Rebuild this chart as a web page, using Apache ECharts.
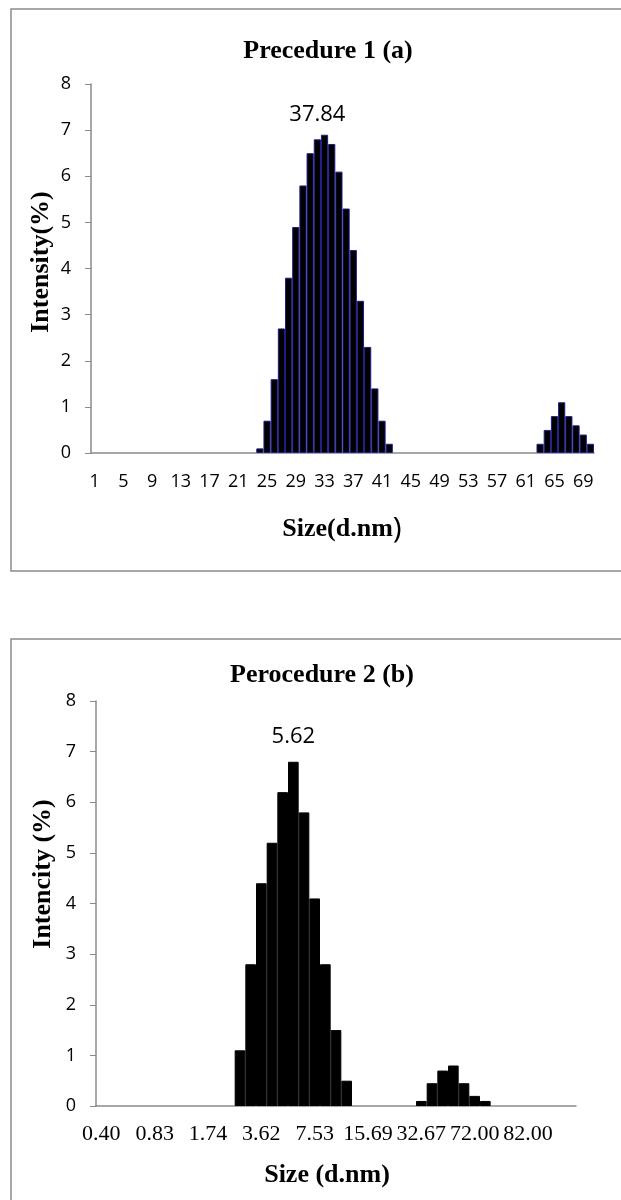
<!DOCTYPE html>
<html>
<head>
<meta charset="utf-8">
<script src="https://cdn.jsdelivr.net/npm/echarts@6/dist/echarts.min.js"></script>
<style>
  html, body { margin: 0; padding: 0; background: #fff; }
  #chart { width: 621px; height: 1200px; }
</style>
</head>
<body>
<div id="chart"></div>
<script>
// ---- chart (a): size bins 1..70, intensity (%)
const sizesA = [
  1, 2, 3, 4, 5, 6, 7, 8, 9, 10, 11, 12, 13, 14, 15, 16, 17, 18, 19, 20,
  21, 22, 23, 24, 25, 26, 27, 28, 29, 30, 31, 32, 33, 34, 35, 36, 37, 38, 39, 40,
  41, 42, 43, 44, 45, 46, 47, 48, 49, 50, 51, 52, 53, 54, 55, 56, 57, 58, 59, 60,
  61, 62, 63, 64, 65, 66, 67, 68, 69, 70
]
const intensityA = [
  0, 0, 0, 0, 0, 0, 0, 0, 0, 0, 0, 0, 0, 0, 0, 0, 0, 0, 0, 0,
  0, 0, 0, 0.1, 0.7, 1.6, 2.7, 3.8, 4.9, 5.8, 6.5, 6.8, 6.9, 6.7, 6.1, 5.3, 4.4, 3.3, 2.3, 1.4,
  0.7, 0.2, 0, 0, 0, 0, 0, 0, 0, 0, 0, 0, 0, 0, 0, 0, 0, 0, 0, 0,
  0, 0, 0.2, 0.5, 0.8, 1.1, 0.8, 0.6, 0.4, 0.2
]
const peakIndexA = 31
const peakTextA = '37.84'

// ---- chart (b): size classes (d.nm), intensity (%)
const sizesB = [
  '0.40', '0.46', '0.54', '0.62', '0.72', '0.83', '0.96', '1.12', '1.29', '1.50',
  '1.74', '2.01', '2.33', '2.70', '3.12', '3.62', '4.19', '4.85', '5.62', '6.50',
  '7.53', '8.72', '10.10', '11.70', '13.54', '15.69', '18.17', '21.04', '24.36', '28.21',
  '32.67', '37.84', '43.82', '50.75', '58.77', '72.00', '78.82', '91.28', '105.70', '122.40',
  '82.00', '164.20', '190.10', '220.20', '255.00'
]
const intensityB = [
  0, 0, 0, 0, 0, 0, 0, 0, 0, 0,
  0, 0, 0, 1.1, 2.8, 4.4, 5.2, 6.2, 6.8, 5.8,
  4.1, 2.8, 1.5, 0.5, 0, 0, 0, 0, 0, 0,
  0.1, 0.45, 0.7, 0.8, 0.45, 0.2, 0.1, 0, 0, 0,
  0, 0, 0, 0, 0
]
const peakIndexB = 18
const peakTextB = '5.62'

const yMin = 0
const yMax = 8
const yStep = 1

const serif = '"Liberation Serif", "Times New Roman", serif'
const sans = '"Open Sans", sans-serif'
const axisGray = '#8a8a8a'

function barData(values, peakIndex, peakText) {
  return values.map((v, i) => {
    const val = v === 0 ? null : v
    if (i !== peakIndex) return val
    return {
      value: val,
      label: {
        show: true,
        position: 'top',
        distance: 14,
        formatter: peakText,
        fontFamily: sans,
        fontSize: 22,
        color: '#000'
      }
    }
  })
}

function valueAxis(gridIndex) {
  return {
    type: 'value',
    gridIndex,
    min: yMin,
    max: yMax,
    interval: yStep,
    axisLine: { show: true, lineStyle: { color: axisGray, width: 1.5 } },
    axisTick: { show: true, length: 6, lineStyle: { color: axisGray } },
    splitLine: { show: false },
    axisLabel: { color: '#000', fontFamily: sans, fontSize: 18, margin: 20 }
  }
}

const chart = echarts.init(document.getElementById('chart'))

const option = {
  animation: false,
  backgroundColor: '#fff',
  grid: [
    { left: 91, right: 27, top: 84, height: 369 },
    { left: 96, right: 45, top: 701, height: 405 }
  ],
  xAxis: [
    {
      type: 'category',
      gridIndex: 0,
      data: sizesA,
      axisLine: { lineStyle: { color: axisGray, width: 1.5 } },
      axisTick: { show: false },
      axisLabel: { interval: 3, color: '#000', fontFamily: sans, fontSize: 18, margin: 20 }
    },
    {
      type: 'category',
      gridIndex: 1,
      data: sizesB,
      axisLine: { lineStyle: { color: axisGray, width: 1.5 } },
      axisTick: { show: false },
      axisLabel: { interval: 4, color: '#000', fontFamily: serif, fontSize: 22, margin: 17 }
    }
  ],
  yAxis: [valueAxis(0), valueAxis(1)],
  series: [
    {
      type: 'bar',
      xAxisIndex: 0,
      yAxisIndex: 0,
      barCategoryGap: '0%',
      itemStyle: { color: '#000', borderColor: '#1c1c8a', borderWidth: 1 },
      data: barData(intensityA, peakIndexA, peakTextA)
    },
    {
      type: 'bar',
      xAxisIndex: 1,
      yAxisIndex: 1,
      barCategoryGap: '0%',
      itemStyle: { color: '#000', borderColor: '#000', borderWidth: 1 },
      data: barData(intensityB, peakIndexB, peakTextB)
    }
  ],
  graphic: [
    // frames
    { type: 'rect', z: -1, shape: { x: 11, y: 9, width: 720, height: 562 },
      style: { fill: 'none', stroke: '#8c8c8c', lineWidth: 1.5 } },
    { type: 'rect', z: -1, shape: { x: 11, y: 639, width: 720, height: 700 },
      style: { fill: 'none', stroke: '#8c8c8c', lineWidth: 1.5 } },
    // titles
    { type: 'text', x: 328, y: 51,
      style: { text: 'Precedure 1 (a)', font: 'bold 26px ' + serif, fill: '#000',
        textAlign: 'center', textVerticalAlign: 'middle' } },
    { type: 'text', x: 322, y: 675,
      style: { text: 'Perocedure 2 (b)', font: 'bold 26px ' + serif, fill: '#000',
        textAlign: 'center', textVerticalAlign: 'middle' } },
    // axis titles
    { type: 'text', x: 342, y: 529,
      style: {
        text: '{a|Size(d.nm}{b|)}',
        textAlign: 'center', textVerticalAlign: 'middle',
        rich: {
          a: { font: 'bold 26px ' + serif, fill: '#000' },
          b: { font: '30px ' + sans, fill: '#000' }
        }
      } },
    { type: 'text', x: 327, y: 1175,
      style: { text: 'Size (d.nm)', font: 'bold 26px ' + serif, fill: '#000',
        textAlign: 'center', textVerticalAlign: 'middle' } },
    { type: 'text', x: 41, y: 262, rotation: Math.PI / 2,
      style: { text: 'Intensity(%)', font: 'bold 26px ' + serif, fill: '#000',
        textAlign: 'center', textVerticalAlign: 'middle' } },
    { type: 'text', x: 43, y: 874, rotation: Math.PI / 2,
      style: { text: 'Intencity (%)', font: 'bold 26px ' + serif, fill: '#000',
        textAlign: 'center', textVerticalAlign: 'middle' } }
  ]
}

chart.setOption(option)
</script>
</body>
</html>
